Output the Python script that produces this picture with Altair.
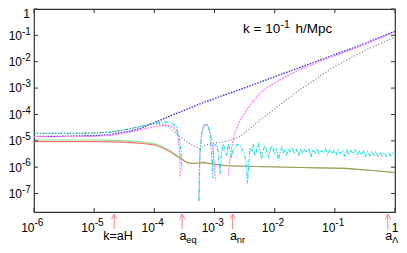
import altair as alt
import pandas as pd

# ---------------- data (scale factor a, |delta|) ----------------
blue_a = [1e-6, 2.7e-6, 1.03e-5, 1.83e-5, 3.65e-5, 5.8e-5, 1.03e-4, 1.82e-4, 3.23e-4, 5.75e-4,
          1.24e-3, 2.65e-3, 7.5e-3, 2.64e-2, 9.3e-2, 0.317, 1.0]
blue_v = [1.48e-5, 1.48e-5, 1.58e-5, 1.72e-5, 2.24e-5, 2.91e-5, 5.05e-5, 8.7e-5, 1.47e-4, 2.53e-4,
          4.8e-4, 8.8e-4, 2.12e-3, 6.1e-3, 1.74e-2, 4.97e-2, 0.142]

mag0_a = [1e-6, 2.7e-6, 5.8e-6, 1.03e-5, 1.83e-5, 3.26e-5, 5.8e-5, 8.5e-5, 1.24e-4, 1.63e-4,
          1.97e-4, 2.3e-4, 2.45e-4, 2.6e-4, 2.67e-4, 2.7e-4]
mag0_v = [1.45e-5, 1.45e-5, 1.46e-5, 1.5e-5, 1.6e-5, 1.95e-5, 2.6e-5, 3.2e-5, 3.7e-5, 3.95e-5,
          3.6e-5, 2.6e-5, 1.6e-5, 5.5e-6, 1.5e-6, 4e-7]
mag1_a = [5.53e-4, 5.74e-4, 6.08e-4, 6.44e-4, 6.95e-4, 7.51e-4, 8.11e-4, 8.75e-4, 9.45e-4, 1.0e-3, 1.02e-3]
mag1_v = [5.3e-8, 4.2e-6, 1.58e-5, 3.2e-5, 4.1e-5, 3.95e-5, 2.9e-5, 1.58e-5, 5.0e-6, 1.14e-6, 3.1e-7]
mag2_a = [1.71e-3, 1.78e-3, 1.95e-3, 2.19e-3, 2.65e-3, 3.2e-3, 3.89e-3, 4.7e-3, 5.71e-3, 7.46e-3,
          1.38e-2, 2.64e-2, 5.0e-2, 9.3e-2, 0.317, 1.0]
mag2_v = [4.8e-7, 1.5e-6, 6.6e-6, 2.05e-5, 5.9e-5, 1.18e-4, 2.18e-4, 3.85e-4, 6.2e-4, 1.05e-3,
          2.4e-3, 5.1e-3, 9.2e-3, 1.59e-2, 4.55e-2, 0.136]

cyan0_a = [1e-6, 2.7e-6, 5.8e-6, 1.03e-5, 1.83e-5, 3.26e-5, 5.8e-5, 8.5e-5, 1.24e-4, 1.63e-4,
           1.97e-4, 2.3e-4, 2.52e-4, 2.72e-4, 2.83e-4, 2.88e-4]
cyan0_v = [1.93e-5, 1.93e-5, 1.94e-5, 2.0e-5, 2.14e-5, 2.6e-5, 3.5e-5, 4.3e-5, 5.0e-5, 5.2e-5,
           4.7e-5, 3.5e-5, 1.88e-5, 6.6e-6, 2.1e-6, 7.4e-7]
cyan1_a = [5.49e-4, 5.63e-4, 5.86e-4, 6.2e-4, 6.7e-4, 7.23e-4, 7.8e-4, 8.41e-4, 8.75e-4, 9.1e-4, 9.27e-4,
           9.45e-4, 9.8e-4, 1.06e-3, 1.14e-3, 1.24e-3, 1.31e-3, 1.40e-3, 1.50e-3, 1.60e-3, 1.70e-3,
           1.81e-3, 1.93e-3, 2.03e-3, 2.19e-3, 2.41e-3, 2.65e-3, 2.86e-3, 3.09e-3, 3.34e-3, 3.54e-3,
           3.75e-3, 3.89e-3, 4.2e-3, 4.42e-3, 4.71e-3, 4.99e-3, 5.35e-3, 5.71e-3, 6.09e-3, 6.4e-3,
           6.9e-3, 7.31e-3, 7.84e-3, 8.37e-3, 8.93e-3, 9.57e-3, 1.01e-2, 1.08e-2, 1.15e-2, 1.23e-2,
           1.31e-2, 1.39e-2, 1.49e-2, 1.58e-2, 1.69e-2]
cyan1_v = [5.3e-8, 1.14e-6, 6.6e-6, 2.05e-5, 3.8e-5, 4.4e-5, 3.8e-5, 1.88e-5, 6.6e-6, 1.48e-6, 4.0e-7,
           1.8e-6, 6.6e-6, 7.4e-6, 4.2e-6, 5.5e-7, 3.6e-6, 7.6e-6, 4.2e-6, 2.7e-6, 7.6e-6,
           4.2e-6, 2.36e-6, 4.2e-6, 5.7e-6, 7.5e-6, 6.6e-6, 5.0e-6, 3.3e-6, 1.8e-6, 2.4e-7,
           1.8e-6, 5.5e-6, 4.2e-6, 7.6e-6, 2.7e-6, 4.2e-6, 7.6e-6, 4.2e-6, 2.05e-6, 4.2e-6,
           6.6e-6, 4.2e-6, 2.36e-6, 4.2e-6, 6.6e-6, 4.2e-6, 3.3e-6, 5.0e-6, 1.8e-6, 3.6e-6,
           5.7e-6, 3.6e-6, 4.6e-6, 3.0e-6, 5.0e-6]
cyan2_a = [0.018, 0.0195, 0.021, 0.023, 0.025, 0.027, 0.029, 0.031, 0.034, 0.037,
           0.040, 0.043, 0.047, 0.051, 0.055, 0.060, 0.065, 0.070, 0.076, 0.083,
           0.090, 0.097, 0.105, 0.114, 0.124, 0.134, 0.145, 0.157, 0.170, 0.185,
           0.20, 0.217, 0.235, 0.255, 0.276, 0.30, 0.325, 0.352, 0.38, 0.41,
           0.445, 0.48, 0.52, 0.565, 0.61, 0.66, 0.72, 0.78, 0.84, 0.91, 1.0]
cyan2_v = [3.9e-6, 5.7e-6, 3.3e-6, 4.6e-6, 2.7e-6, 5.0e-6, 3.3e-6, 4.6e-6, 3.9e-6, 5.2e-6,
           2.4e-6, 4.6e-6, 3.6e-6, 5.0e-6, 3.0e-6, 4.2e-6, 3.6e-6, 5.0e-6, 3.0e-6, 4.6e-6,
           3.3e-6, 4.4e-6, 3.0e-6, 4.6e-6, 3.3e-6, 4.2e-6, 2.7e-6, 4.4e-6, 3.0e-6, 4.2e-6,
           3.3e-6, 4.6e-6, 2.8e-6, 4.0e-6, 3.0e-6, 4.2e-6, 2.6e-6, 3.9e-6, 2.8e-6, 4.0e-6,
           2.9e-6, 3.8e-6, 2.6e-6, 3.7e-6, 2.8e-6, 3.6e-6, 2.6e-6, 3.5e-6, 2.7e-6, 3.4e-6, 3.2e-6]

grey_a = [1e-6, 2.7e-6, 5.8e-6, 1.03e-5, 1.83e-5, 3.26e-5, 5.8e-5, 8.5e-5, 1.24e-4, 1.82e-4,
          2.35e-4, 3.03e-4, 3.92e-4, 5.06e-4, 5.74e-4, 6.95e-4, 8.4e-4, 1.24e-3, 1.81e-3, 2.65e-3,
          3.89e-3, 5.71e-3, 8.37e-3, 1.38e-2, 2.64e-2, 9.3e-2, 0.317, 1.0]
grey_v = [1.93e-5, 1.93e-5, 1.94e-5, 2.0e-5, 2.14e-5, 2.6e-5, 3.5e-5, 4.3e-5, 4.4e-5, 3.26e-5,
          1.83e-5, 1.18e-5, 7.6e-6, 5.7e-6, 4.9e-6, 6.6e-6, 7.6e-6, 8.8e-6, 1.02e-5, 1.44e-5,
          2.9e-5, 6.1e-5, 1.23e-4, 2.83e-4, 8.8e-4, 6.1e-3, 2.7e-2, 8.6e-2]

green_a = [1e-6, 2.7e-6, 1.03e-5, 2.69e-5, 4.78e-5, 7.0e-5, 1.03e-4, 1.24e-4, 1.82e-4, 2.67e-4,
           3.49e-4, 4.4e-4, 5.32e-4, 6.44e-4, 7.8e-4, 9.45e-4, 1.61e-3, 3.21e-3, 2.64e-2, 0.148, 0.385, 1.0]
green_v = [1.08e-5, 1.08e-5, 1.07e-5, 1.02e-5, 9.5e-6, 8.8e-6, 7.5e-6, 6.6e-6, 4.2e-6, 2.36e-6,
           1.52e-6, 1.39e-6, 1.44e-6, 1.52e-6, 1.42e-6, 1.32e-6, 1.14e-6, 1.09e-6, 9.7e-7, 9.0e-7, 7.7e-7, 6.3e-7]

red_a = [1e-6, 1.03e-5, 2.69e-5, 4.78e-5, 7.0e-5, 1.03e-4, 1.24e-4, 1.82e-4, 2.67e-4, 3.49e-4,
         4.4e-4, 5.32e-4, 6.44e-4, 7.8e-4, 9.45e-4, 1.61e-3, 3.21e-3, 2.64e-2, 0.148, 0.385, 1.0]
red_v = [9.3e-6, 9.3e-6, 8.9e-6, 8.4e-6, 7.8e-6, 6.9e-6, 6.0e-6, 3.9e-6, 2.2e-6, 1.48e-6,
         1.39e-6, 1.44e-6, 1.52e-6, 1.42e-6, 1.32e-6, 1.14e-6, 1.09e-6, 9.7e-7, 9.0e-7, 7.7e-7, 6.3e-7]

x_tick_vals = [1e-6, 1e-5, 1e-4, 1e-3, 1e-2, 1e-1]
x_tick_exp = ["-6", "-5", "-4", "-3", "-2", "-1"]
y_tick_vals = [1e-7, 1e-6, 1e-5, 1e-4, 1e-3, 1e-2, 1e-1]
y_tick_exp = ["-7", "-6", "-5", "-4", "-3", "-2", "-1"]
all_x_ticks = [1e-6, 1e-5, 1e-4, 1e-3, 1e-2, 1e-1, 1.0]
all_y_ticks = [1e-7, 1e-6, 1e-5, 1e-4, 1e-3, 1e-2, 1e-1, 1.0]

arrow_a = [2.15e-5, 2.9e-4, 2.0e-3, 0.76]
arrow_sub_a = [2.9e-4, 2.0e-3, 0.76]
arrow_sub = ["eq", "nr", "Λ"]

W, H = 361, 203
FONT = "Liberation Sans"
FRAME = "#333333"

X = alt.X("a:Q", scale=alt.Scale(type="log", domain=[1e-6, 1], nice=False), axis=None)
Y = alt.Y("v:Q", scale=alt.Scale(type="log", domain=[2e-8, 1], nice=False), axis=None)


def seg_df(parts):
    rows = []
    for s, (aa, vv) in enumerate(parts):
        for i, (a, v) in enumerate(zip(aa, vv)):
            rows.append({"a": a, "v": v, "seg": s, "i": i})
    return pd.DataFrame(rows)


def line(parts, color, width, dash=None, opacity=1.0):
    kw = dict(color=color, strokeWidth=width, opacity=opacity, clip=True)
    if dash:
        kw["strokeDash"] = dash
    return alt.Chart(seg_df(parts)).mark_line(**kw).encode(
        x=X, y=Y, detail="seg:N", order="i:Q")


red = line([(red_a, red_v)], "#ff5050", 1.1, opacity=0.8)
green = line([(green_a, green_v)], "#3fc83f", 1.1, opacity=0.6)
blue = line([(blue_a, blue_v)], "#3535ff", 1.4, dash=[1.5, 1.3])
mag = line([(mag0_a, mag0_v), (mag1_a, mag1_v), (mag2_a, mag2_v)], "#ff70ff", 1.1, dash=[2, 1])
cyan = line([(cyan0_a, cyan0_v), (cyan1_a + cyan2_a, cyan1_v + cyan2_v)], "#18e0e0", 1.1,
            dash=[4, 1.5, 1.2, 1.5])
grey = line([(grey_a, grey_v)], "#6a6a6a", 1.1, dash=[1, 2])

xt = pd.DataFrame({"a": all_x_ticks})
yt = pd.DataFrame({"v": all_y_ticks})
ticks = [
    alt.Chart(xt).mark_rule(color=FRAME).encode(x=X, y=alt.value(H), y2=alt.value(H - 4)),
    alt.Chart(xt).mark_rule(color=FRAME).encode(x=X, y=alt.value(0), y2=alt.value(4)),
    alt.Chart(yt).mark_rule(color=FRAME).encode(y=Y, x=alt.value(0), x2=alt.value(4)),
    alt.Chart(yt).mark_rule(color=FRAME).encode(y=Y, x=alt.value(W - 4), x2=alt.value(W)),
]

xl = pd.DataFrame({"a": x_tick_vals, "e": x_tick_exp})
yl = pd.DataFrame({"v": y_tick_vals, "e": y_tick_exp})
labels = [
    alt.Chart(xl).mark_text(align="right", baseline="alphabetic", font=FONT, fontSize=12, dx=0.5)
    .encode(x=X, y=alt.value(222.7), text=alt.value("10")),
    alt.Chart(xl).mark_text(align="left", baseline="alphabetic", font=FONT, fontSize=10, dx=0.5)
    .encode(x=X, y=alt.value(216.5), text="e:N"),
    alt.Chart(pd.DataFrame({"a": [1.0]})).mark_text(align="center", baseline="alphabetic",
                                                    font=FONT, fontSize=12)
    .encode(x=X, y=alt.value(222.7), text=alt.value("1")),
    alt.Chart(yl).mark_text(align="right", baseline="alphabetic", font=FONT, fontSize=12, dy=4.3)
    .encode(y=Y, x=alt.value(-12), text=alt.value("10")),
    alt.Chart(yl).mark_text(align="left", baseline="alphabetic", font=FONT, fontSize=10, dy=-0.8)
    .encode(y=Y, x=alt.value(-12), text="e:N"),
    alt.Chart(pd.DataFrame({"v": [1.0]})).mark_text(align="right", baseline="alphabetic",
                                                    font=FONT, fontSize=12, dy=8.5)
    .encode(y=Y, x=alt.value(-4), text=alt.value("1")),
]

ARROW = "#ff8080"
ad = pd.DataFrame({"a": arrow_a})
arrows = [
    alt.Chart(ad).mark_rule(color=ARROW, strokeWidth=1).encode(
        x=X, y=alt.value(H + 2), y2=alt.value(H + 17)),
    alt.Chart(ad).mark_point(shape="M-1,1L0,-1L1,1", filled=False, size=28, color=ARROW,
                             strokeWidth=1, opacity=1).encode(x=X, y=alt.value(H + 4.6)),
    alt.Chart(pd.DataFrame({"a": [arrow_a[0]]})).mark_text(
        align="left", baseline="alphabetic", font=FONT, fontSize=12.5, dx=-11)
    .encode(x=X, y=alt.value(H + 28), text=alt.value("k=aH")),
    alt.Chart(pd.DataFrame({"a": arrow_sub_a})).mark_text(
        align="left", baseline="alphabetic", font=FONT, fontSize=12.5, dx=-2.6)
    .encode(x=X, y=alt.value(H + 28), text=alt.value("a")),
    alt.Chart(pd.DataFrame({"a": arrow_sub_a, "s": arrow_sub})).mark_text(
        align="left", baseline="alphabetic", font=FONT, fontSize=9.5, dx=4.1)
    .encode(x=X, y=alt.value(H + 31), text="s:N"),
]

anchor = pd.DataFrame({"a": [2.98e-3], "v": [0.12]})
title = [
    alt.Chart(anchor).mark_text(align="left", baseline="alphabetic", font=FONT, fontSize=13.5)
    .encode(x=X, y=Y, text=alt.value("k = 10")),
    alt.Chart(anchor).mark_text(align="left", baseline="alphabetic", font=FONT, fontSize=10.5,
                                dx=37.5, dy=-5.3)
    .encode(x=X, y=Y, text=alt.value("-1")),
    alt.Chart(anchor).mark_text(align="left", baseline="alphabetic", font=FONT, fontSize=13.5,
                                dx=52.5)
    .encode(x=X, y=Y, text=alt.value("h/Mpc")),
]

chart = alt.layer(
    red, green, blue, mag, cyan, grey, *ticks, *labels, *arrows, *title
).properties(
    width=W, height=H,
    padding={"left": 26, "top": 1, "right": 4, "bottom": 33},
    autosize=alt.AutoSizeParams(type="none"),
    background="white",
).configure_view(stroke=FRAME, strokeWidth=1.2)

chart.save("out.html", embed_options={"renderer": "svg", "actions": False})
